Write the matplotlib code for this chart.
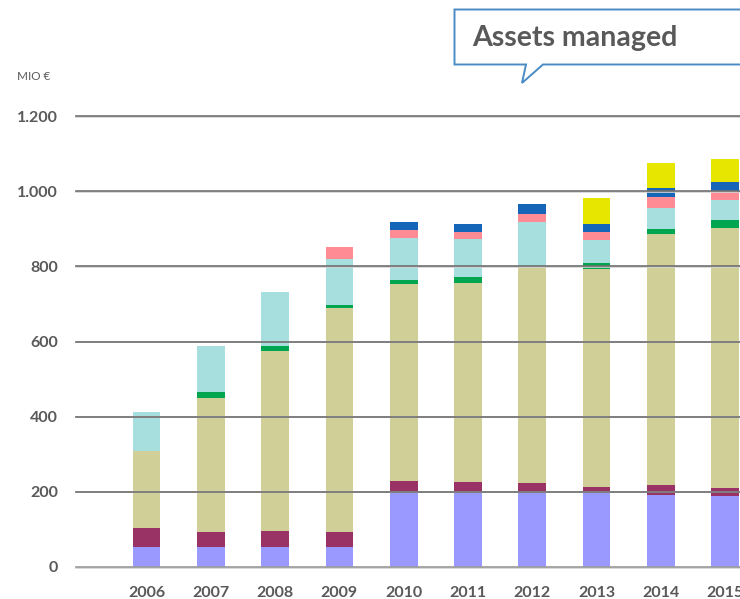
import matplotlib
matplotlib.use("Agg")
import matplotlib.pyplot as plt
from matplotlib.patches import Polygon
import numpy as np

plt.rcParams['font.family'] = ['Lato', 'DejaVu Sans']

years = ['2006', '2007', '2008', '2009', '2010', '2011', '2012', '2013', '2014', '2015']
s_lavender = [52, 52, 52, 52, 198, 196, 196, 196, 192, 189]
s_maroon = [52, 40, 43, 40, 30, 30, 27, 17, 27, 22]
s_khaki = [204, 357, 480, 597, 525, 530, 577, 581, 668, 692]
s_green = [0, 16, 13, 8, 11, 16, 0, 16, 13, 21]
s_teal = [104, 123, 144, 123, 111, 100, 118, 61, 56, 54]
s_pink = [0, 0, 0, 31, 22, 19, 21, 21, 30, 24]
s_blue = [0, 0, 0, 0, 21, 22, 27, 22, 24, 24]
s_yellow = [0, 0, 0, 0, 0, 0, 0, 67, 66, 61]
yticks = [0, 200, 400, 600, 800, 1000, 1200]
ytick_labels = ['0', '200', '400', '600', '800', '1.000', '1.200']

series = [
    (s_lavender, '#9999FF'),
    (s_maroon, '#993366'),
    (s_khaki, '#D0CF98'),
    (s_green, '#00A550'),
    (s_teal, '#A7DEDE'),
    (s_pink, '#FF8C94'),
    (s_blue, '#1565B8'),
    (s_yellow, '#E6E600'),
]

W, H = 740, 599
fig = plt.figure(figsize=(W / 100, H / 100), dpi=100)

def px(x, y):
    return (x / W, 1 - y / H)

ax_left, ax_right, ax_top, ax_bot = 76, 740, 116.3, 566.7
ax = fig.add_axes([ax_left / W, 1 - ax_bot / H, (ax_right - ax_left) / W, (ax_bot - ax_top) / H])

x = np.arange(len(years))
bottom = np.zeros(len(years))
for vals, col in series:
    v = np.array(vals, dtype=float)
    ax.bar(x, v, bottom=bottom, width=0.43, color=col, zorder=2, linewidth=0)
    bottom += v

ax.set_ylim(0, 1200)
ax.set_xlim(-1.096, 9.23)
ax.set_yticks(yticks)
ax.set_yticklabels(ytick_labels)
ax.set_xticks(x)
ax.set_xticklabels(years)
for yv in yticks:
    ax.axhline(yv - 2.2, color='#D4D4D4', lw=1.2, zorder=3, clip_on=False)
    ax.axhline(yv, color='#707070' if yv else '#9A9A9A', lw=1.2, zorder=4, clip_on=False)
for s in ax.spines.values():
    s.set_visible(False)
ax.tick_params(axis='both', length=0, colors='#595959', labelsize=11.5)
ax.tick_params(axis='y', pad=13)
ax.tick_params(axis='x', pad=14)
for lab in ax.get_xticklabels() + ax.get_yticklabels():
    lab.set_fontweight('bold')
    lab.set_color('#595959')

fig.text(*px(17, 76), 'MIO €', fontsize=8.5, color='#595959', va='center', ha='left')

# callout box
pts = [(454.5, 9.5), (745, 9.5), (745, 64.5), (543, 64.5), (522, 83), (526, 64.5), (454.5, 64.5)]
poly = Polygon([px(a, b) for a, b in pts], closed=True, transform=fig.transFigure,
               facecolor='white', edgecolor='#4A8BC4', lw=1.4, zorder=5)
fig.patches.append(poly)
fig.text(*px(472, 38), 'Assets managed', fontsize=20.5, fontweight='bold', color='#595959',
         va='center', ha='left', zorder=6)

fig.savefig('out.png', dpi=100)
